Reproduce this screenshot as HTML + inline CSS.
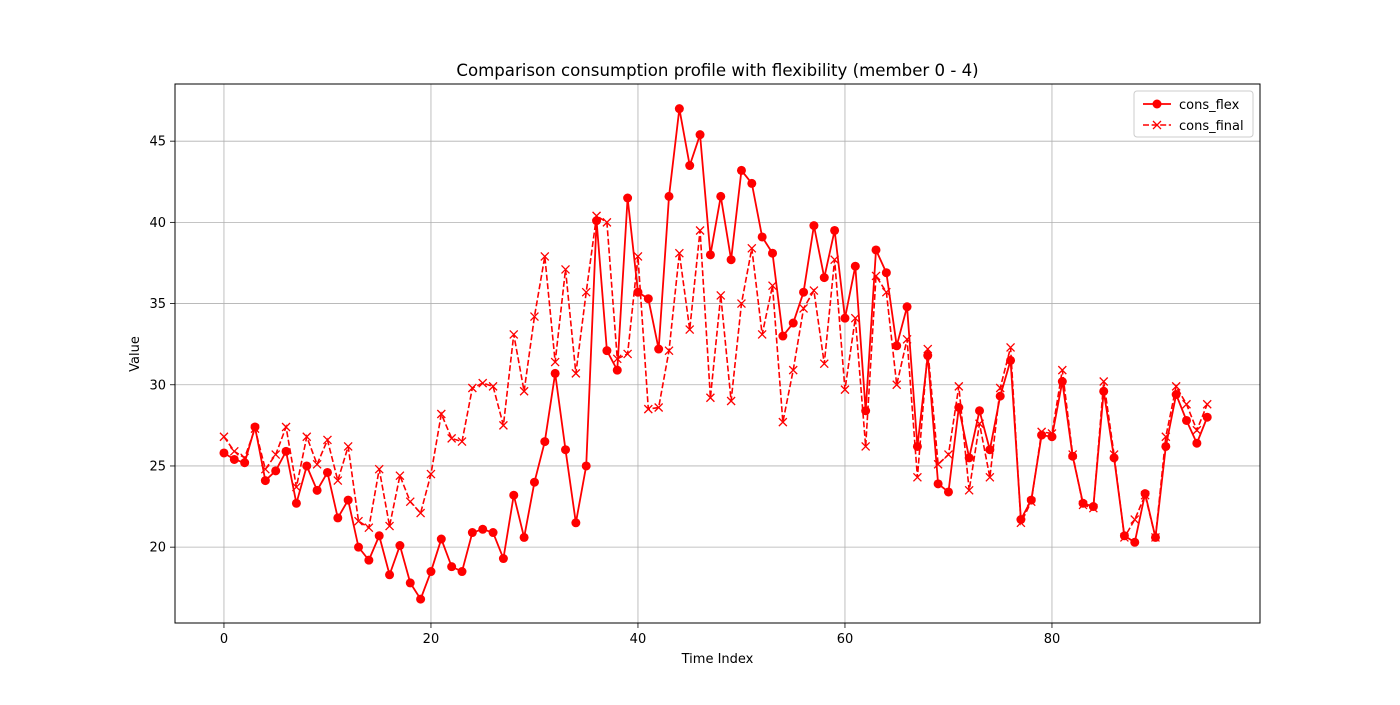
<!DOCTYPE html>
<html><head><meta charset="utf-8"><style>
body{margin:0;background:#fff;font-family:"Liberation Sans","DejaVu Sans",sans-serif;}
svg text{font-family:"DejaVu Sans","Liberation Sans",sans-serif;}
</style></head><body>
<svg id="chart" width="1400" height="700" xmlns="http://www.w3.org/2000/svg"></svg>
<script>
const xTicks=[0,20,40,60,80];
const yTicks=[20,25,30,35,40,45];
const consFlex=[25.8,25.4,25.2,27.4,24.1,24.7,25.9,22.7,25.0,23.5,24.6,21.8,22.9,20.0,19.2,20.7,18.3,20.1,17.8,16.8,18.5,20.5,18.8,18.5,20.9,21.1,20.9,19.3,23.2,20.6,24.0,26.5,30.7,26.0,21.5,25.0,40.1,32.1,30.9,41.5,35.7,35.3,32.2,41.6,47.0,43.5,45.4,38.0,41.6,37.7,43.2,42.4,39.1,38.1,33.0,33.8,35.7,39.8,36.6,39.5,34.1,37.3,28.4,38.3,36.9,32.4,34.8,26.2,31.8,23.9,23.4,28.6,25.5,28.4,26.0,29.3,31.5,21.7,22.9,26.9,26.8,30.2,25.6,22.7,22.5,29.6,25.5,20.7,20.3,23.3,20.6,26.2,29.4,27.8,26.4,28.0];
const consFinal=[26.8,25.9,25.5,27.3,24.8,25.7,27.4,23.7,26.8,25.1,26.6,24.1,26.2,21.6,21.2,24.8,21.3,24.4,22.8,22.1,24.5,28.2,26.7,26.5,29.8,30.1,29.9,27.5,33.1,29.6,34.2,37.9,31.4,37.1,30.7,35.7,40.4,40.0,31.6,31.9,37.9,28.5,28.6,32.1,38.1,33.4,39.5,29.2,35.5,29.0,35.0,38.4,33.1,36.1,27.7,30.9,34.7,35.8,31.3,37.7,29.7,34.1,26.2,36.7,35.7,30.0,32.8,24.3,32.2,25.1,25.7,29.9,23.5,27.6,24.3,29.8,32.3,21.5,22.8,27.1,27.0,30.9,25.7,22.6,22.4,30.2,25.7,20.6,21.7,23.2,20.6,26.8,29.9,28.8,27.2,28.8];

const L=175,R=1260,T=84,B=623;
const xMin=-4.73,xMax=100.1,yMin=15.33,yMax=48.52;
const sx=v=>L+(v-xMin)/(xMax-xMin)*(R-L);
const sy=v=>B-(v-yMin)/(yMax-yMin)*(B-T);
const svg=document.getElementById('chart');
const NS='http://www.w3.org/2000/svg';
function mk(tag,attrs,parent){const e=document.createElementNS(NS,tag);for(const k in attrs)e.setAttribute(k,attrs[k]);(parent||svg).appendChild(e);return e;}
function txt(s,attrs){const e=mk('text',attrs);e.textContent=s;return e;}

xTicks.forEach(v=>{
  const g=mk('line',{x1:sx(v),x2:sx(v),y1:T,y2:B,stroke:'#b0b0b0','stroke-width':0.8});
  
  
  const t=mk('line',{x1:sx(v),x2:sx(v),y1:B,y2:B+5,stroke:'#000','stroke-width':0.8});
  
  
  const l=txt(String(v),{x:sx(v),y:B+20,'text-anchor':'middle','font-size':13,fill:'#000'});
  
  
});
yTicks.forEach(v=>{
  const g=mk('line',{x1:L,x2:R,y1:sy(v),y2:sy(v),stroke:'#b0b0b0','stroke-width':0.8});
  
  
  const t=mk('line',{x1:L-5,x2:L,y1:sy(v),y2:sy(v),stroke:'#000','stroke-width':0.8});
  
  
  const l=txt(String(v),{x:L-9,y:sy(v)+4.5,'text-anchor':'end','font-size':13,fill:'#000'});
  
  
});

const pf=mk('polyline',{points:consFinal.map((v,i)=>sx(i)+','+sy(v)).join(' '),fill:'none',stroke:'#ff0000','stroke-width':1.6,'stroke-dasharray':'6,2.6'});


consFinal.forEach((v,i)=>{
  const x=sx(i),y=sy(v);
  const m=mk('path',{d:`M${x-4} ${y-4}L${x+4} ${y+4}M${x-4} ${y+4}L${x+4} ${y-4}`,stroke:'#ff0000','stroke-width':1.3,fill:'none'});
  
  
});
const pl=mk('polyline',{points:consFlex.map((v,i)=>sx(i)+','+sy(v)).join(' '),fill:'none',stroke:'#ff0000','stroke-width':1.8});


consFlex.forEach((v,i)=>{
  const c=mk('circle',{cx:sx(i),cy:sy(v),r:4.5,fill:'#ff0000'});
  
  
});

const fr=mk('rect',{x:L,y:T,width:R-L,height:B-T,fill:'none',stroke:'#000','stroke-width':1});



const title=txt('Comparison consumption profile with flexibility (member 0 - 4)',{x:(L+R)/2,y:76,'text-anchor':'middle','font-size':16.6,fill:'#000'});


const xt=txt('Time Index',{x:(L+R)/2,y:663,'text-anchor':'middle','font-size':13,fill:'#000'});


const yt=txt('Value',{x:139,y:354,'text-anchor':'middle','font-size':13,fill:'#000',transform:'rotate(-90 139 354)'});



const lg=mk('g',{});


mk('rect',{x:1134,y:91,width:119,height:46,rx:3,fill:'#fff',stroke:'#ccc','stroke-width':1},lg);
mk('line',{x1:1143,x2:1171,y1:104,y2:104,stroke:'#ff0000','stroke-width':1.8},lg);
mk('circle',{cx:1157,cy:104,r:4.5,fill:'#ff0000'},lg);
const t1=mk('text',{x:1179,y:109,'font-size':13,fill:'#000'},lg);t1.textContent='cons_flex';


mk('line',{x1:1143,x2:1171,y1:125,y2:125,stroke:'#ff0000','stroke-width':1.6,'stroke-dasharray':'6,2.6'},lg);
mk('path',{d:'M1153 121L1161 129M1153 129L1161 121',stroke:'#ff0000','stroke-width':1.3},lg);
const t2=mk('text',{x:1179,y:130,'font-size':13,fill:'#000'},lg);t2.textContent='cons_final';


</script>
</body></html>
